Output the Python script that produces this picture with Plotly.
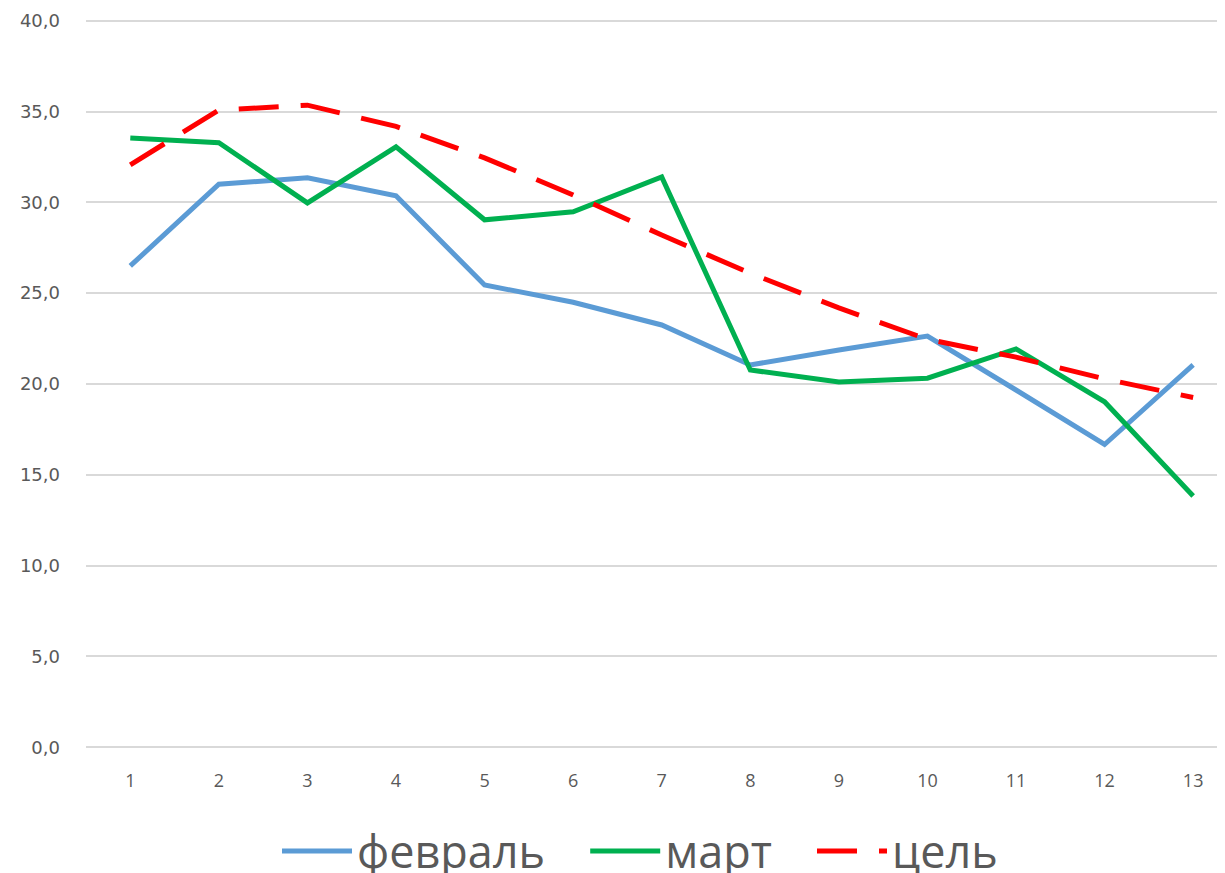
import plotly.graph_objects as go

x_vals = list(range(1, 14))
x_labels = [str(i) for i in x_vals]
feb = [26.5, 31.0, 31.35, 30.36, 25.45, 24.5, 23.25, 21.05, 21.87, 22.64, 19.67, 16.67, 21.05]
mar = [33.55, 33.28, 29.97, 33.06, 29.04, 29.48, 31.4, 20.77, 20.11, 20.32, 21.93, 19.02, 13.83]
goal = [32.07, 35.08, 35.35, 34.18, 32.45, 30.41, 28.2, 26.1, 24.19, 22.46, 21.48, 20.28, 19.26]
names = ["февраль", "март", "цель"]
pad = "\u00a0\u00a0\u00a0"

fig = go.Figure()
fig.add_trace(go.Scatter(x=x_vals, y=feb, mode="lines", name=names[0] + pad,
                         line=dict(color="#5B9BD5", width=5)))
fig.add_trace(go.Scatter(x=x_vals, y=mar, mode="lines", name=names[1] + pad,
                         line=dict(color="#00B050", width=5)))
fig.add_trace(go.Scatter(x=x_vals, y=goal, mode="lines", name=names[2],
                         line=dict(color="#FF0000", width=5, dash="40px,22px")))

fig.update_layout(
    width=1225, height=873,
    margin=dict(l=78, r=0, t=10, b=131, autoexpand=False),
    plot_bgcolor="white", paper_bgcolor="white",
    separators=", ",
    showlegend=True,
    legend=dict(orientation="h", x=0.483, xanchor="center", y=-0.089, yanchor="top",
                font=dict(family="Open Sans, sans-serif", size=45, color="#595959"),
                tracegroupgap=0, itemwidth=70),
    xaxis=dict(range=[0.5, 13.45], tickmode="array", tickvals=x_vals, ticktext=x_labels,
               showgrid=False, zeroline=False, showline=False, ticks="", automargin=False,
               ticklabelstandoff=18,
               tickfont=dict(family="Open Sans, sans-serif", size=18, color="#595959")),
    yaxis=dict(range=[-0.15, 40.15], tickmode="array", tickvals=[0, 5, 10, 15, 20, 25, 30, 35, 40],
               tickformat=".1f", showgrid=True, gridcolor="#D9D9D9", gridwidth=1.5,
               zeroline=False, showline=False, ticks="", automargin=False,
               ticklabelstandoff=25,
               tickfont=dict(family="DejaVu Sans, sans-serif", size=18, color="#595959")),
)
fig.write_html("out.html")
